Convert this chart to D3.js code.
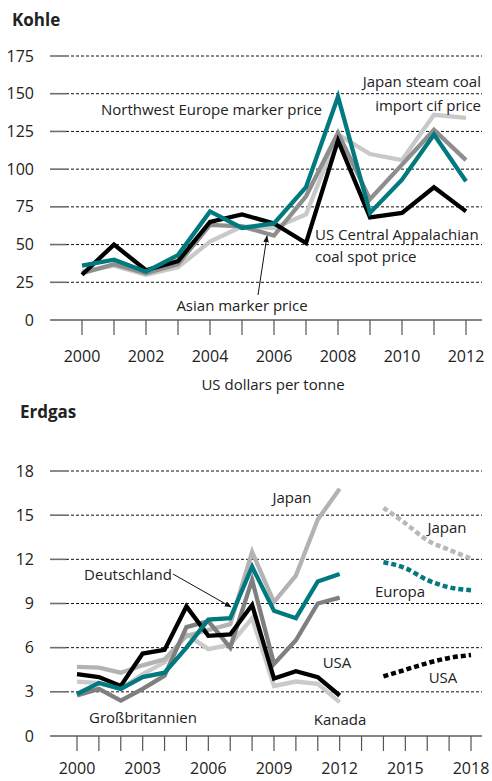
<!DOCTYPE html>
<html>
<head>
<meta charset="utf-8">
<script src="https://cdn.jsdelivr.net/npm/d3@7"></script>
<style>
  body { margin: 0; background: #fff; }
  text { font-family: "Open Sans", "DejaVu Sans", sans-serif; fill: #222; }
</style>
</head>
<body>
<div id="chart"></div>
<script>
// Kohle (US dollars per tonne)
const coalYears = d3.range(2000, 2013);
const usAppalachian = [30, 50, 33, 39, 65, 70, 64, 51, 119, 68, 71, 88, 72];
const nwEurope = [36, 40, 32, 43, 72, 61, 64, 88, 148, 71, 93, 123, 92];
const japanSteam = [32, 36, 30, 35, 52, 62, 61, 70, 123, 110, 106, 136, 134];
const asianMarker = [31, 37, 31, 37, 63, 62, 56, 82, 124, 80, 103, 126, 106];
const coalTicks = [0, 25, 50, 75, 100, 125, 150, 175];

// Erdgas
const gasYears = d3.range(2000, 2013);
const gasJapan = [4.7, 4.65, 4.3, 4.8, 5.2, 6.8, 7.2, 7.6, 12.5, 9.1, 10.9, 14.7, 16.8];
const gasKanada = [3.7, 3.6, 3.2, 4.2, 5.0, 6.9, 5.9, 6.2, 8.0, 3.4, 3.7, 3.55, 2.3];
const gasGB = [2.75, 3.2, 2.4, 3.2, 4.1, 7.4, 7.8, 6.0, 10.6, 4.9, 6.5, 9.0, 9.4];
const gasUSA = [4.2, 4.0, 3.4, 5.6, 5.85, 8.8, 6.8, 6.9, 8.9, 3.9, 4.4, 4.0, 2.75];
const gasDeutschland = [2.85, 3.6, 3.2, 4.0, 4.3, 6.0, 7.9, 8.0, 11.5, 8.5, 8.0, 10.5, 11.0];
const forecastYears = [2014, 2015, 2016, 2017, 2018];
const fcJapan = [15.5, 14.45, 13.3, 12.65, 12.05];
const fcEuropa = [11.8, 11.4, 10.6, 10.1, 9.9];
const fcUSA = [4.05, 4.5, 4.95, 5.3, 5.5];
const gasTicks = [0, 3, 6, 9, 12, 15, 18];

const width = 492, height = 781;
const svg = d3.select("#chart").append("svg")
    .attr("width", width)
    .attr("height", height);

// arrow marker
svg.append("defs").append("marker")
    .attr("id", "arrow")
    .attr("viewBox", "0 0 10 10")
    .attr("refX", 9).attr("refY", 5)
    .attr("markerWidth", 7).attr("markerHeight", 7)
    .attr("orient", "auto")
    .append("path")
    .attr("d", "M0,1 L10,5 L0,9 Z")
    .attr("fill", "#111");

const teal = "#00797f";

function drawFrame(g, x, y, ticks, years, labelYears, labelOffset) {
    // gridlines
    ticks.filter(t => t > 0).forEach(t => {
        g.append("line")
            .attr("x1", 50).attr("x2", 66)
            .attr("y1", y(t)).attr("y2", y(t))
            .attr("stroke", "#6e6e6e").attr("stroke-width", 1.6);
        g.append("line")
            .attr("x1", 66).attr("x2", 482)
            .attr("y1", y(t)).attr("y2", y(t))
            .attr("stroke", "#111").attr("stroke-width", 1)
            .attr("stroke-dasharray", "3,2");
    });
    g.append("line")
        .attr("x1", 50).attr("x2", 482)
        .attr("y1", y(0)).attr("y2", y(0))
        .attr("stroke", "#111").attr("stroke-width", 1.2);

    g.selectAll(".ylab")
        .data(ticks)
        .enter().append("text")
        .attr("x", 34)
        .attr("y", d => y(d))
        .attr("dy", "0.35em")
        .attr("text-anchor", "end")
        .style("font-size", "16px")
        .text(d => d);

    g.selectAll(".xtick")
        .data(years)
        .enter().append("line")
        .attr("x1", d => x(d)).attr("x2", d => x(d))
        .attr("y1", y(0)).attr("y2", y(0) + 15)
        .attr("stroke", "#555").attr("stroke-width", 1.2);

    g.selectAll(".xlab")
        .data(labelYears)
        .enter().append("text")
        .attr("x", d => x(d))
        .attr("y", y(0) + labelOffset)
        .attr("dy", "0.35em")
        .attr("text-anchor", "middle")
        .style("font-size", "16px")
        .text(d => d);
}

function drawLine(g, x, y, years, values, color, dash) {
    const line = d3.line()
        .x((d, i) => x(years[i]))
        .y(d => y(d));
    if (dash) line.curve(d3.curveMonotoneX);
    g.append("path")
        .datum(values)
        .attr("d", line)
        .attr("fill", "none")
        .attr("stroke", color)
        .attr("stroke-width", dash ? 4.5 : 4.3)
        .attr("stroke-linejoin", "miter")
        .attr("stroke-dasharray", dash || null);
}

function label(g, txt, x, y, anchor) {
    g.append("text")
        .attr("x", x).attr("y", y)
        .attr("dy", "0.35em")
        .attr("text-anchor", anchor || "start")
        .style("font-size", "15px")
        .text(txt);
}

// ---------- Kohle ----------
const coal = svg.append("g");
const xCoal = d3.scaleLinear().domain([2000, 2012]).range([82, 466]);
const yCoal = d3.scaleLinear().domain([0, 175]).range([320, 56]);

coal.append("text")
    .attr("x", 12).attr("y", 20).attr("dy", "0.35em")
    .style("font-size", "17px").style("font-weight", "bold")
    .text("Kohle");

drawFrame(coal, xCoal, yCoal, coalTicks, coalYears, d3.range(2000, 2013, 2), 36);

drawLine(coal, xCoal, yCoal, coalYears, japanSteam, "#c9c9c9");
drawLine(coal, xCoal, yCoal, coalYears, asianMarker, "#8e8e8e");
drawLine(coal, xCoal, yCoal, coalYears, usAppalachian, "#000");
drawLine(coal, xCoal, yCoal, coalYears, nwEurope, teal);

label(coal, "Northwest Europe marker price", 322, 110, "end");
label(coal, "Japan steam coal", 481, 82, "end");
label(coal, "import cif price", 481, 106, "end");
label(coal, "US Central Appalachian", 315, 235);
label(coal, "coal spot price", 315, 257);
label(coal, "Asian marker price", 242, 306, "middle");
coal.append("line")
    .attr("x1", 258).attr("y1", 295)
    .attr("x2", 267).attr("y2", 236)
    .attr("stroke", "#111").attr("stroke-width", 1)
    .attr("marker-end", "url(#arrow)");

coal.append("text")
    .attr("x", 273).attr("y", 385).attr("dy", "0.35em")
    .attr("text-anchor", "middle")
    .style("font-size", "15px")
    .text("US dollars per tonne");

// ---------- Erdgas ----------
const gas = svg.append("g");
const xGas = d3.scaleLinear().domain([2000, 2018]).range([77, 471]);
const yGas = d3.scaleLinear().domain([0, 18]).range([736, 471]);

gas.append("text")
    .attr("x", 20).attr("y", 412).attr("dy", "0.35em")
    .style("font-size", "17px").style("font-weight", "bold")
    .text("Erdgas");

drawFrame(gas, xGas, yGas, gasTicks, d3.range(2000, 2019), d3.range(2000, 2019, 3), 32);

drawLine(gas, xGas, yGas, gasYears, gasKanada, "#cacaca");
drawLine(gas, xGas, yGas, gasYears, gasJapan, "#b3b3b3");
drawLine(gas, xGas, yGas, gasYears, gasGB, "#7f7f7f");
drawLine(gas, xGas, yGas, gasYears, gasUSA, "#000");
drawLine(gas, xGas, yGas, gasYears, gasDeutschland, teal);

drawLine(gas, xGas, yGas, forecastYears, fcJapan, "#b8b8b8", "5,3");
drawLine(gas, xGas, yGas, forecastYears, fcEuropa, teal, "5,3");
drawLine(gas, xGas, yGas, forecastYears, fcUSA, "#000", "5,3");

label(gas, "Japan", 292, 498, "middle");
label(gas, "Japan", 447, 528, "middle");
label(gas, "Europa", 400, 592, "middle");
label(gas, "USA", 337, 663, "middle");
label(gas, "USA", 443, 678, "middle");
label(gas, "Kanada", 340, 720, "middle");
label(gas, "Großbritannien", 143, 718, "middle");
label(gas, "Deutschland", 172, 575, "end");
gas.append("line")
    .attr("x1", 173).attr("y1", 574)
    .attr("x2", 231).attr("y2", 607)
    .attr("stroke", "#111").attr("stroke-width", 1)
    .attr("marker-end", "url(#arrow)");
</script>
</body>
</html>
